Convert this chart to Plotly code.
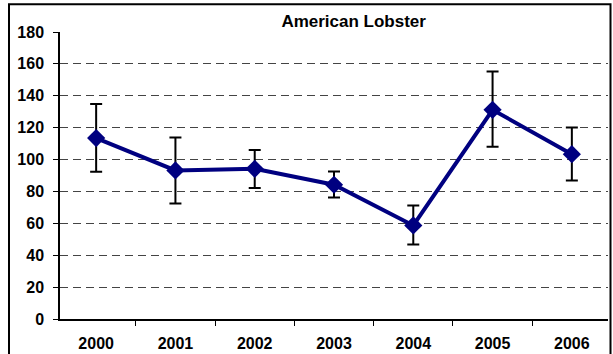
import plotly.graph_objects as go

years = ["2000", "2001", "2002", "2003", "2004", "2005", "2006"]
values = [113.5, 93.2, 94.2, 84.2, 58.7, 131.2, 103.4]
err_upper = [134.8, 113.9, 106.0, 92.5, 71.2, 155.2, 120.1]
err_lower = [92.3, 72.5, 82.1, 76.2, 46.8, 108.0, 86.9]
y_ticks = [0, 20, 40, 60, 80, 100, 120, 140, 160, 180]

plus = [u - v for u, v in zip(err_upper, values)]
minus = [v - l for v, l in zip(values, err_lower)]

FONT = "Liberation Sans, Arial, sans-serif"

fig = go.Figure()
fig.add_trace(go.Scatter(
    x=years, y=values, mode="lines+markers",
    line=dict(color="#000080", width=4),
    marker=dict(symbol="diamond", size=14, color="#000080"),
    error_y=dict(type="data", symmetric=False, array=plus, arrayminus=minus,
                 color="black", thickness=2, width=6),
    showlegend=False,
))

fig.update_layout(
    width=613, height=354,
    margin=dict(l=60, r=5, t=32, b=35),
    paper_bgcolor="white", plot_bgcolor="white",
    font=dict(family=FONT, color="black"),
    title=dict(text="<b>American Lobster</b>", x=328.5 / 613, xref="paper", xanchor="center",
               y=1 - 21 / 354, yanchor="middle", font=dict(size=17, color="black")),
)
fig.update_xaxes(
    type="category", tickson="boundaries", ticks="outside", ticklen=5, tickcolor="black",
    showline=True, linecolor="black", linewidth=1.5, showgrid=False, automargin=False,
    tickfont=dict(size=16, family=FONT),
    tickprefix="<b>", ticksuffix="</b>", ticklabelstandoff=9,
)
fig.update_yaxes(
    range=[0, 180], tickvals=y_ticks, ticktext=[f"<b>{t}</b>" for t in y_ticks],
    ticks="outside", ticklen=5, tickcolor="black", automargin=False,
    showline=True, linecolor="black", linewidth=1.5,
    showgrid=True, gridcolor="#444444", gridwidth=1, griddash="8px,5px",
    zeroline=False, tickfont=dict(size=16, family=FONT), ticklabelstandoff=6,
)
fig.add_shape(type="rect", xref="paper", yref="paper",
              x0=(9 - 60) / 548, x1=(610.5 - 60) / 548,
              y0=-0.2, y1=(319.3 - 4.5) / 287,
              line=dict(color="black", width=2), fillcolor="rgba(0,0,0,0)", layer="above")

fig.write_html("out.html", config={"displayModeBar": False},
               post_script="document.body.style.margin='0';")
